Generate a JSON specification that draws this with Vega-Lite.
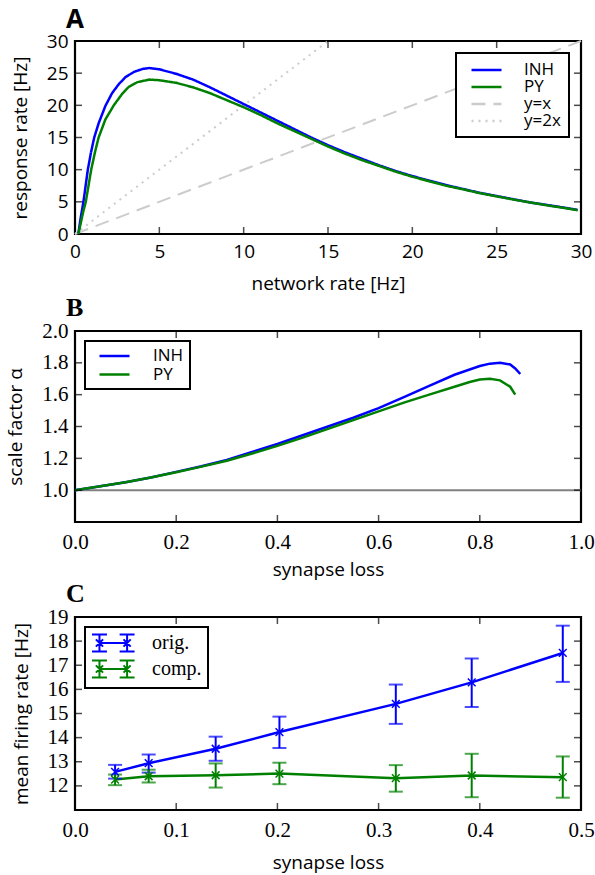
{
  "$schema": "https://vega.github.io/schema/vega-lite/v6.json",
  "background": "white",
  "padding": 5,
  "spacing": -2,
  "resolve": {"scale": {"color": "independent", "strokeDash": "independent"}, "legend": {"color": "independent", "strokeDash": "independent"}},
  "config": {
    "view": {"stroke": "black", "strokeWidth": 2.2},
    "axis": {"grid": false, "domain": false, "ticks": false,
      "labelColor": "black", "titleColor": "black", "labelFont": "Open Sans", "labelFontSize": 19,
      "titleFont": "Open Sans", "titleFontSize": 19, "titleFontWeight": "normal", "labelFlush": false,
      "labelOverlap": false, "labelPadding": 8, "titlePadding": 13, "minExtent": 0},
    "axisY": {"labelPadding": 7, "titlePadding": 16},
    "title": {"anchor": "start", "frame": "group", "fontSize": 26, "fontWeight": "bold", "color": "black", "offset": -1, "dx": -9},
    "legend": {"strokeColor": "black", "strokeWidth": 2, "fillColor": "white", "cornerRadius": 0,
      "labelFont": "Open Sans", "labelFontSize": 17, "labelColor": "black", "titleOpacity": 0, "rowPadding": 0}
  },
  "datasets": {
    "aCurves": [
      {"s":"INH","x":0.2,"y":0.1},{"s":"INH","x":0.35,"y":2.7},{"s":"INH","x":0.5,"y":5.0},{"s":"INH","x":0.63,"y":7.5},{"s":"INH","x":0.76,"y":10},{"s":"INH","x":0.95,"y":12.7},{"s":"INH","x":1.14,"y":15},{"s":"INH","x":1.4,"y":17.2},{"s":"INH","x":1.8,"y":19.9},{"s":"INH","x":2.2,"y":21.9},{"s":"INH","x":2.6,"y":23.3},{"s":"INH","x":3.0,"y":24.4},{"s":"INH","x":3.5,"y":25.2},{"s":"INH","x":4.0,"y":25.65},{"s":"INH","x":4.4,"y":25.8},{"s":"INH","x":5,"y":25.6},{"s":"INH","x":6,"y":24.9},{"s":"INH","x":7,"y":24.0},{"s":"INH","x":8,"y":22.8},{"s":"INH","x":9,"y":21.5},{"s":"INH","x":10,"y":20.2},{"s":"INH","x":11,"y":18.9},{"s":"INH","x":12,"y":17.6},{"s":"INH","x":13,"y":16.3},{"s":"INH","x":14,"y":15.0},{"s":"INH","x":15,"y":13.8},{"s":"INH","x":16,"y":12.7},{"s":"INH","x":17,"y":11.7},{"s":"INH","x":18,"y":10.7},{"s":"INH","x":19,"y":9.8},{"s":"INH","x":20,"y":9.0},{"s":"INH","x":21,"y":8.3},{"s":"INH","x":22,"y":7.6},{"s":"INH","x":23,"y":7.0},{"s":"INH","x":24,"y":6.4},{"s":"INH","x":25,"y":5.9},{"s":"INH","x":26,"y":5.4},{"s":"INH","x":27,"y":4.9},{"s":"INH","x":28,"y":4.5},{"s":"INH","x":29,"y":4.1},{"s":"INH","x":29.8,"y":3.75},
      {"s":"PY","x":0.2,"y":0.05},{"s":"PY","x":0.35,"y":1.8},{"s":"PY","x":0.5,"y":3.6},{"s":"PY","x":0.64,"y":5.0},{"s":"PY","x":0.8,"y":7.5},{"s":"PY","x":0.96,"y":10},{"s":"PY","x":1.2,"y":12.9},{"s":"PY","x":1.4,"y":15},{"s":"PY","x":1.8,"y":17.8},{"s":"PY","x":2.3,"y":20},{"s":"PY","x":2.8,"y":21.8},{"s":"PY","x":3.2,"y":22.9},{"s":"PY","x":3.7,"y":23.6},{"s":"PY","x":4.4,"y":24.0},{"s":"PY","x":5,"y":23.9},{"s":"PY","x":6,"y":23.5},{"s":"PY","x":7,"y":22.8},{"s":"PY","x":8,"y":21.9},{"s":"PY","x":9,"y":20.8},{"s":"PY","x":10,"y":19.7},{"s":"PY","x":11,"y":18.5},{"s":"PY","x":12,"y":17.2},{"s":"PY","x":13,"y":16.0},{"s":"PY","x":14,"y":14.8},{"s":"PY","x":15,"y":13.6},{"s":"PY","x":16,"y":12.5},{"s":"PY","x":17,"y":11.5},{"s":"PY","x":18,"y":10.6},{"s":"PY","x":19,"y":9.7},{"s":"PY","x":20,"y":8.9},{"s":"PY","x":21,"y":8.2},{"s":"PY","x":22,"y":7.5},{"s":"PY","x":23,"y":6.95},{"s":"PY","x":24,"y":6.35},{"s":"PY","x":25,"y":5.85},{"s":"PY","x":26,"y":5.35},{"s":"PY","x":27,"y":4.9},{"s":"PY","x":28,"y":4.45},{"s":"PY","x":29,"y":4.05},{"s":"PY","x":29.8,"y":3.7}
    ],
    "aRef": [
      {"s":"y=x","x":0,"y":0},{"s":"y=x","x":30,"y":30},
      {"s":"y=2x","x":0,"y":0},{"s":"y=2x","x":15,"y":30}
    ],
    "aT": [{"v":5,"e":0},{"v":10,"e":0},{"v":15,"e":0},{"v":20,"e":0},{"v":25,"e":0},{"v":5,"e":30},{"v":10,"e":30},{"v":15,"e":30},{"v":20,"e":30},{"v":25,"e":30}],
    "bCurves": [
      {"s":"INH","x":0,"y":1.0},{"s":"INH","x":0.05,"y":1.025},{"s":"INH","x":0.1,"y":1.05},{"s":"INH","x":0.15,"y":1.08},{"s":"INH","x":0.2,"y":1.115},{"s":"INH","x":0.25,"y":1.15},{"s":"INH","x":0.3,"y":1.19},{"s":"INH","x":0.35,"y":1.24},{"s":"INH","x":0.4,"y":1.29},{"s":"INH","x":0.45,"y":1.345},{"s":"INH","x":0.5,"y":1.4},{"s":"INH","x":0.55,"y":1.455},{"s":"INH","x":0.6,"y":1.515},{"s":"INH","x":0.65,"y":1.585},{"s":"INH","x":0.7,"y":1.655},{"s":"INH","x":0.75,"y":1.725},{"s":"INH","x":0.8,"y":1.78},{"s":"INH","x":0.82,"y":1.795},{"s":"INH","x":0.84,"y":1.8},{"s":"INH","x":0.86,"y":1.79},{"s":"INH","x":0.87,"y":1.765},{"s":"INH","x":0.88,"y":1.73},
      {"s":"PY","x":0,"y":1.0},{"s":"PY","x":0.05,"y":1.025},{"s":"PY","x":0.1,"y":1.05},{"s":"PY","x":0.15,"y":1.08},{"s":"PY","x":0.2,"y":1.112},{"s":"PY","x":0.25,"y":1.148},{"s":"PY","x":0.3,"y":1.185},{"s":"PY","x":0.35,"y":1.23},{"s":"PY","x":0.4,"y":1.278},{"s":"PY","x":0.45,"y":1.33},{"s":"PY","x":0.5,"y":1.385},{"s":"PY","x":0.55,"y":1.44},{"s":"PY","x":0.6,"y":1.495},{"s":"PY","x":0.65,"y":1.55},{"s":"PY","x":0.7,"y":1.6},{"s":"PY","x":0.75,"y":1.65},{"s":"PY","x":0.78,"y":1.68},{"s":"PY","x":0.8,"y":1.695},{"s":"PY","x":0.82,"y":1.7},{"s":"PY","x":0.84,"y":1.69},{"s":"PY","x":0.86,"y":1.65},{"s":"PY","x":0.87,"y":1.6}
    ],
    "bRef": [{"x":0,"y":1},{"x":1,"y":1}],
    "bTV": [{"v":0.2,"e":0.8},{"v":0.4,"e":0.8},{"v":0.6,"e":0.8},{"v":0.8,"e":0.8},{"v":0.2,"e":2.0},{"v":0.4,"e":2.0},{"v":0.6,"e":2.0},{"v":0.8,"e":2.0}],
    "bTH": [{"v":1.0,"e":0},{"v":1.2,"e":0},{"v":1.4,"e":0},{"v":1.6,"e":0},{"v":1.8,"e":0},{"v":1.0,"e":1},{"v":1.2,"e":1},{"v":1.4,"e":1},{"v":1.6,"e":1},{"v":1.8,"e":1}],
    "cData": [
      {"s":"orig.","x":0.0396,"y":12.58,"lo":12.3,"hi":12.87},
      {"s":"orig.","x":0.0728,"y":12.94,"lo":12.55,"hi":13.3},
      {"s":"orig.","x":0.139,"y":13.54,"lo":13.04,"hi":14.04},
      {"s":"orig.","x":0.202,"y":14.23,"lo":13.57,"hi":14.87},
      {"s":"orig.","x":0.317,"y":15.4,"lo":14.57,"hi":16.2},
      {"s":"orig.","x":0.392,"y":16.29,"lo":15.27,"hi":17.28},
      {"s":"orig.","x":0.482,"y":17.51,"lo":16.31,"hi":18.64},
      {"s":"comp.","x":0.0396,"y":12.26,"lo":12.03,"hi":12.47},
      {"s":"comp.","x":0.0728,"y":12.4,"lo":12.14,"hi":12.67},
      {"s":"comp.","x":0.139,"y":12.44,"lo":11.93,"hi":12.93},
      {"s":"comp.","x":0.202,"y":12.51,"lo":12.07,"hi":12.96},
      {"s":"comp.","x":0.317,"y":12.32,"lo":11.76,"hi":12.86},
      {"s":"comp.","x":0.392,"y":12.43,"lo":11.53,"hi":13.33},
      {"s":"comp.","x":0.482,"y":12.36,"lo":11.51,"hi":13.22}
    ],
    "cTV": [{"v":0.1,"e":11},{"v":0.2,"e":11},{"v":0.3,"e":11},{"v":0.4,"e":11},{"v":0.1,"e":19},{"v":0.2,"e":19},{"v":0.3,"e":19},{"v":0.4,"e":19}],
    "cTH": [{"v":12,"e":0},{"v":13,"e":0},{"v":14,"e":0},{"v":15,"e":0},{"v":16,"e":0},{"v":17,"e":0},{"v":18,"e":0},{"v":12,"e":0.5},{"v":13,"e":0.5},{"v":14,"e":0.5},{"v":15,"e":0.5},{"v":16,"e":0.5},{"v":17,"e":0.5},{"v":18,"e":0.5}]
  },
  "vconcat": [
    {
      "title": {"text": "A", "font": "Open Sans"},
      "width": 506, "height": 193,
      "resolve": {"axis": {"x": "independent", "y": "independent"}},
      "layer": [
        {
          "data": {"name": "aRef"},
          "mark": {"type": "line", "strokeWidth": 2},
          "encoding": {
            "x": {"field": "x", "type": "quantitative", "scale": {"domain": [0, 30], "nice": false},
              "axis": {"title": "network rate [Hz]", "values": [0,5,10,15,20,25,30]}},
            "y": {"field": "y", "type": "quantitative", "scale": {"domain": [0, 30], "nice": false},
              "axis": {"title": "response rate [Hz]", "values": [0,5,10,15,20,25,30]}},
            "color": {"field": "s", "type": "nominal",
              "scale": {"domain": ["INH","PY","y=x","y=2x"], "range": ["#0000ff","#008000","#cccccc","#cccccc"]},
              "legend": {"title": null, "orient": "top-right", "offset": 12, "padding": 8, "symbolOffset": 6, "symbolType": "M-1,0L3,0", "symbolSize": 225, "symbolStrokeWidth": 2.5, "labelOffset": 36}},
            "strokeDash": {"field": "s", "type": "nominal",
              "scale": {"domain": ["INH","PY","y=x","y=2x"], "range": [[1,0],[1,0],[14,8],[2,5]]},
              "legend": {"title": null, "orient": "top-right", "offset": 12, "padding": 8, "symbolOffset": 6, "symbolType": "M-1,0L3,0", "symbolSize": 225, "symbolStrokeWidth": 2.5, "labelOffset": 36}}
          }
        },
        {
          "data": {"name": "aCurves"},
          "mark": {"type": "line", "strokeWidth": 2.5},
          "encoding": {
            "x": {"field": "x", "type": "quantitative", "axis": null},
            "y": {"field": "y", "type": "quantitative", "axis": null},
            "color": {"field": "s", "type": "nominal"},
            "strokeDash": {"field": "s", "type": "nominal"}
          }
        },
        {
          "data": {"name": "aT"}, "transform": [{"filter": {"field": "e", "equal": 0}}],
          "mark": {"type": "tick", "orient": "vertical", "color": "black", "thickness": 1.5, "size": 7, "yOffset": -3.5},
          "encoding": {"x": {"field": "v", "type": "quantitative", "axis": null}, "y": {"field": "e", "type": "quantitative", "axis": null}}
        },
        {
          "data": {"name": "aT"}, "transform": [{"filter": {"field": "e", "equal": 30}}],
          "mark": {"type": "tick", "orient": "vertical", "color": "black", "thickness": 1.5, "size": 7, "yOffset": 3.5},
          "encoding": {"x": {"field": "v", "type": "quantitative", "axis": null}, "y": {"field": "e", "type": "quantitative", "axis": null}}
        },
        {
          "data": {"name": "aT"}, "transform": [{"filter": {"field": "e", "equal": 0}}],
          "mark": {"type": "tick", "orient": "horizontal", "color": "black", "thickness": 1.5, "size": 7, "xOffset": 3.5},
          "encoding": {"x": {"field": "e", "type": "quantitative", "axis": null}, "y": {"field": "v", "type": "quantitative", "axis": null}}
        },
        {
          "data": {"name": "aT"}, "transform": [{"filter": {"field": "e", "equal": 30}}],
          "mark": {"type": "tick", "orient": "horizontal", "color": "black", "thickness": 1.5, "size": 7, "xOffset": -3.5},
          "encoding": {"x": {"field": "e", "type": "quantitative", "axis": null}, "y": {"field": "v", "type": "quantitative", "axis": null}}
        }
      ]
    },
    {
      "title": {"text": "B", "font": "Liberation Serif"},
      "width": 506, "height": 191,
      "resolve": {"axis": {"x": "independent", "y": "independent"}},
      "layer": [
        {
          "data": {"name": "bRef"},
          "mark": {"type": "line", "strokeWidth": 2, "color": "#808080"},
          "encoding": {
            "x": {"field": "x", "type": "quantitative", "scale": {"domain": [0, 1], "nice": false},
              "axis": {"title": "synapse loss", "values": [0,0.2,0.4,0.6,0.8,1.0], "format": ".1f", "labelFont": "Liberation Serif", "labelFontSize": 21, "labelPadding": 9, "titlePadding": 8}},
            "y": {"field": "y", "type": "quantitative", "scale": {"domain": [0.8, 2.0], "nice": false, "zero": false},
              "axis": {"title": "scale factor α", "values": [1.0,1.2,1.4,1.6,1.8,2.0], "format": ".1f", "labelFont": "Liberation Serif", "labelFontSize": 21}}
          }
        },
        {
          "data": {"name": "bCurves"},
          "mark": {"type": "line", "strokeWidth": 2.5},
          "encoding": {
            "x": {"field": "x", "type": "quantitative", "axis": null},
            "y": {"field": "y", "type": "quantitative", "axis": null},
            "color": {"field": "s", "type": "nominal",
              "scale": {"domain": ["INH","PY"], "range": ["#0000ff","#008000"]},
              "legend": {"title": null, "orient": "top-left", "offset": 10, "padding": 6, "symbolOffset": 7, "symbolType": "M-1,0L3,0", "symbolSize": 225, "symbolStrokeWidth": 2.5, "labelOffset": 37, "rowPadding": 1.5}}
          }
        },
        {
          "data": {"name": "bTV"}, "transform": [{"filter": {"field": "e", "equal": 0.8}}],
          "mark": {"type": "tick", "orient": "vertical", "color": "black", "thickness": 1.5, "size": 7, "yOffset": -3.5},
          "encoding": {"x": {"field": "v", "type": "quantitative", "axis": null}, "y": {"field": "e", "type": "quantitative", "axis": null}}
        },
        {
          "data": {"name": "bTV"}, "transform": [{"filter": {"field": "e", "equal": 2.0}}],
          "mark": {"type": "tick", "orient": "vertical", "color": "black", "thickness": 1.5, "size": 7, "yOffset": 3.5},
          "encoding": {"x": {"field": "v", "type": "quantitative", "axis": null}, "y": {"field": "e", "type": "quantitative", "axis": null}}
        },
        {
          "data": {"name": "bTH"}, "transform": [{"filter": {"field": "e", "equal": 0}}],
          "mark": {"type": "tick", "orient": "horizontal", "color": "black", "thickness": 1.5, "size": 7, "xOffset": 3.5},
          "encoding": {"x": {"field": "e", "type": "quantitative", "axis": null}, "y": {"field": "v", "type": "quantitative", "axis": null}}
        },
        {
          "data": {"name": "bTH"}, "transform": [{"filter": {"field": "e", "equal": 1}}],
          "mark": {"type": "tick", "orient": "horizontal", "color": "black", "thickness": 1.5, "size": 7, "xOffset": -3.5},
          "encoding": {"x": {"field": "e", "type": "quantitative", "axis": null}, "y": {"field": "v", "type": "quantitative", "axis": null}}
        }
      ]
    },
    {
      "title": {"text": "C", "font": "Liberation Serif"},
      "width": 506, "height": 193,
      "resolve": {"axis": {"x": "independent", "y": "independent"}},
      "layer": [
        {
          "data": {"name": "cData"},
          "mark": {"type": "line", "strokeWidth": 2.5},
          "encoding": {
            "x": {"field": "x", "type": "quantitative", "scale": {"domain": [0, 0.5], "nice": false},
              "axis": {"title": "synapse loss", "values": [0,0.1,0.2,0.3,0.4,0.5], "format": ".1f", "labelFont": "Liberation Serif", "labelFontSize": 21, "labelPadding": 9, "titlePadding": 13}},
            "y": {"field": "y", "type": "quantitative", "scale": {"domain": [11, 19], "nice": false, "zero": false},
              "axis": {"title": "mean firing rate [Hz]", "values": [12,13,14,15,16,17,18,19], "labelFont": "Liberation Serif", "labelFontSize": 21}},
            "color": {"field": "s", "type": "nominal",
              "scale": {"domain": ["orig.","comp."], "range": ["#0000ff","#008000"]},
              "legend": {"title": null, "orient": "top-left", "offset": 10, "padding": 6,
                "symbolType": "M-0.17,0L2.9,0M-0.17,-0.94L-0.17,0.94M2.9,-0.94L2.9,0.94M-1,-0.94L0.66,-0.94M-1,0.94L0.66,0.94M2.07,-0.94L3.73,-0.94M2.07,0.94L3.73,0.94M-0.57,-0.4L0.23,0.4M-0.57,0.4L0.23,-0.4M2.5,-0.4L3.3,0.4M2.5,0.4L3.3,-0.4",
                "symbolSize": 324, "symbolStrokeWidth": 2, "symbolFillColor": "transparent", "labelOffset": 41, "labelFont": "Liberation Serif", "labelFontSize": 20, "rowPadding": 0,
                "encode": {"symbols": {"update": {"fill": {"value": "transparent"}}}}}}
          }
        },
        {
          "data": {"name": "cData"},
          "mark": {"type": "errorbar", "ticks": {"size": 14, "thickness": 2}, "thickness": 2},
          "encoding": {
            "x": {"field": "x", "type": "quantitative", "axis": null},
            "y": {"field": "lo", "type": "quantitative", "axis": null},
            "y2": {"field": "hi"},
            "color": {"field": "s", "type": "nominal", "legend": null}
          }
        },
        {
          "data": {"name": "cData"},
          "mark": {"type": "point", "shape": "M-1,-1L1,1M-1,1L1,-1", "filled": false, "size": 60, "strokeWidth": 1.5, "opacity": 1},
          "encoding": {
            "x": {"field": "x", "type": "quantitative", "axis": null},
            "y": {"field": "y", "type": "quantitative", "axis": null},
            "color": {"field": "s", "type": "nominal", "legend": null}
          }
        },
        {
          "data": {"name": "cTV"}, "transform": [{"filter": {"field": "e", "equal": 11}}],
          "mark": {"type": "tick", "orient": "vertical", "color": "black", "thickness": 1.5, "size": 7, "yOffset": -3.5},
          "encoding": {"x": {"field": "v", "type": "quantitative", "axis": null}, "y": {"field": "e", "type": "quantitative", "axis": null}}
        },
        {
          "data": {"name": "cTV"}, "transform": [{"filter": {"field": "e", "equal": 19}}],
          "mark": {"type": "tick", "orient": "vertical", "color": "black", "thickness": 1.5, "size": 7, "yOffset": 3.5},
          "encoding": {"x": {"field": "v", "type": "quantitative", "axis": null}, "y": {"field": "e", "type": "quantitative", "axis": null}}
        },
        {
          "data": {"name": "cTH"}, "transform": [{"filter": {"field": "e", "equal": 0}}],
          "mark": {"type": "tick", "orient": "horizontal", "color": "black", "thickness": 1.5, "size": 7, "xOffset": 3.5},
          "encoding": {"x": {"field": "e", "type": "quantitative", "axis": null}, "y": {"field": "v", "type": "quantitative", "axis": null}}
        },
        {
          "data": {"name": "cTH"}, "transform": [{"filter": {"field": "e", "equal": 0.5}}],
          "mark": {"type": "tick", "orient": "horizontal", "color": "black", "thickness": 1.5, "size": 7, "xOffset": -3.5},
          "encoding": {"x": {"field": "e", "type": "quantitative", "axis": null}, "y": {"field": "v", "type": "quantitative", "axis": null}}
        }
      ]
    }
  ]
}
